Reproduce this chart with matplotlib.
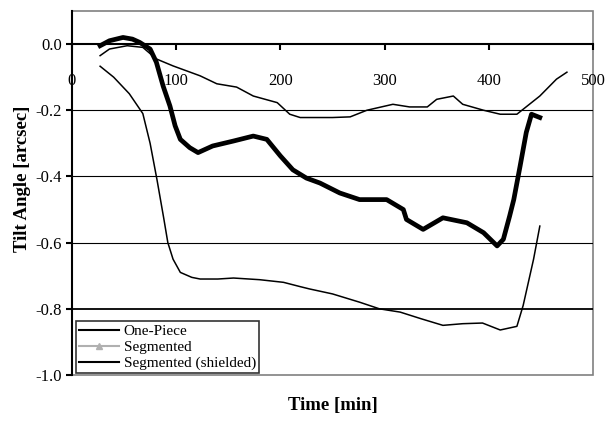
import matplotlib
matplotlib.use('Agg')
import matplotlib.pyplot as plt
from matplotlib.lines import Line2D
from matplotlib.patches import Rectangle

# One-Piece (lower thin curve)
one_x = [27, 40, 55, 68, 75, 81.6, 88, 92, 97, 104, 115, 123, 140, 155, 180, 203, 219, 228,
         250, 276, 295, 315, 335, 356, 375, 394, 411, 427, 433, 438, 443, 449]
one_y = [-0.067, -0.10, -0.15, -0.21, -0.30, -0.41, -0.525, -0.60, -0.65, -0.69, -0.705, -0.71,
         -0.71, -0.707, -0.712, -0.72, -0.733, -0.74, -0.755, -0.78, -0.80, -0.81, -0.83, -0.85,
         -0.845, -0.843, -0.864, -0.853, -0.79, -0.72, -0.65, -0.55]

# Segmented (thick curve)
seg_x = [27, 36, 49, 58, 65, 75, 81, 87.5, 94, 99, 104, 113, 121, 135, 155, 174, 187, 200,
         212, 225, 238, 257, 276, 302, 318, 321, 337, 356, 379, 395, 408, 414, 420, 424, 430,
         436, 441, 449]
seg_y = [-0.005, 0.01, 0.02, 0.015, 0.005, -0.015, -0.055, -0.127, -0.187, -0.247, -0.288,
         -0.313, -0.328, -0.308, -0.293, -0.278, -0.288, -0.338, -0.38, -0.405, -0.42, -0.45,
         -0.47, -0.47, -0.5, -0.53, -0.56, -0.525, -0.54, -0.57, -0.61, -0.59, -0.52, -0.47,
         -0.37, -0.267, -0.212, -0.222]

# Segmented (shielded) (upper thin curve)
shd_x = [27, 36, 53, 68, 81, 97, 123, 139, 158, 174, 197, 209, 219, 250, 267, 283, 308, 324,
         341, 350, 366, 375, 395, 411, 427, 437, 449, 465, 475]
shd_y = [-0.035, -0.015, -0.005, -0.01, -0.045, -0.066, -0.096, -0.12, -0.13, -0.157, -0.177,
         -0.212, -0.222, -0.222, -0.22, -0.2, -0.182, -0.19, -0.19, -0.167, -0.157, -0.182,
         -0.2, -0.212, -0.212, -0.187, -0.157, -0.106, -0.085]

labels = ['One-Piece', 'Segmented', 'Segmented (shielded)']
xticks = [0, 100, 200, 300, 400, 500]
yticks = [-1.0, -0.8, -0.6, -0.4, -0.2, 0.0]

plt.rcParams['font.family'] = ['Liberation Serif', 'DejaVu Serif']

fig = plt.figure(figsize=(6.12, 4.22), dpi=100)
ax = fig.add_axes([0.1176, 0.1114, 0.8513, 0.8626])

ax.set_xlim(0, 500)
ax.set_ylim(-1.0, 0.1)

for yv in [-0.2, -0.4, -0.6]:
    ax.axhline(yv, color='black', lw=0.8, zorder=1)
ax.axhline(-0.8, color='black', lw=1.3, zorder=1)

ax.plot(one_x, one_y, color='black', lw=1.1, zorder=3)
ax.plot(seg_x, seg_y, color='black', lw=3.4, solid_joinstyle='round', zorder=3)
ax.plot(shd_x, shd_y, color='black', lw=1.1, zorder=3)

# frame
ax.add_patch(Rectangle((0, 0), 1, 1, transform=ax.transAxes, fill=False,
                       edgecolor='#808080', lw=1.2, zorder=0.5, clip_on=False))
ax.spines['top'].set_visible(False)
ax.spines['right'].set_visible(False)
ax.spines['bottom'].set_position(('data', 0))
ax.spines['bottom'].set_linewidth(1.5)
ax.spines['left'].set_linewidth(1.5)

ax.set_xticks(xticks)
ax.set_xticklabels([str(v) for v in xticks])
ax.set_yticks(yticks)
ax.set_yticklabels(['%.1f' % v for v in yticks])
ax.tick_params(axis='x', direction='out', length=4, width=1.5, pad=17, labelsize=12)
ax.tick_params(axis='y', direction='out', length=4, width=1.5, pad=3, labelsize=12)

ax.set_xlabel('Time [min]', fontsize=13.5, fontweight='bold')
ax.xaxis.set_label_coords(0.5, -0.06)
ax.set_ylabel('Tilt Angle [arcsec]', fontsize=13.5, fontweight='bold')
ax.yaxis.set_label_coords(-0.078, 0.54)

handles = [Line2D([], [], color='black', lw=1.5),
           Line2D([], [], color='#b0b0b0', lw=1.5, marker='^', markersize=4),
           Line2D([], [], color='black', lw=1.5)]
leg = ax.legend(handles, labels, loc='lower left', bbox_to_anchor=(0.008, 0.005),
                fontsize=11, frameon=True, fancybox=False, borderpad=0.2,
                labelspacing=0.15, handlelength=2.6, handletextpad=0.3, borderaxespad=0)
leg.get_frame().set_edgecolor('black')
leg.get_frame().set_linewidth(1.2)
leg.set_zorder(5)

fig.savefig('out.png', dpi=100)
